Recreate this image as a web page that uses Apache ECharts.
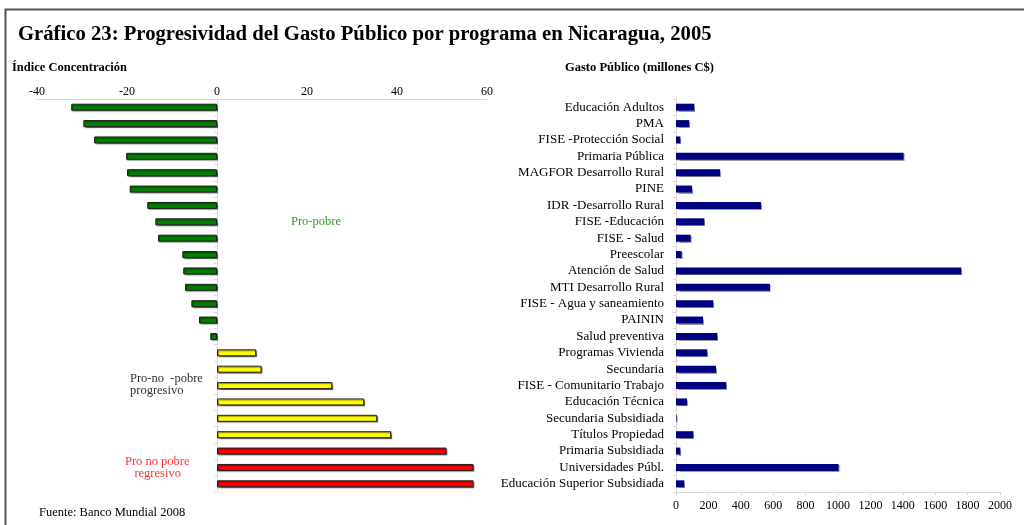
<!DOCTYPE html>
<html>
<head>
<meta charset="utf-8">
<script src="https://cdn.jsdelivr.net/npm/echarts@6/dist/echarts.min.js"></script>
<style>
html,body{margin:0;padding:0;background:#fff;}
#c{width:1024px;height:525px;}
</style>
</head>
<body>
<div id="c"></div>
<script>
const categories = [
  'Educación Adultos', 'PMA', 'FISE -Protección Social', 'Primaria Pública',
  'MAGFOR Desarrollo Rural', 'PINE', 'IDR -Desarrollo Rural', 'FISE -Educación',
  'FISE - Salud', 'Preescolar', 'Atención de Salud', 'MTI Desarrollo Rural',
  'FISE - Agua y saneamiento', 'PAININ', 'Salud preventiva', 'Programas Vivienda',
  'Secundaria', 'FISE - Comunitario Trabajo', 'Educación Técnica', 'Secundaria Subsidiada',
  'Títulos Propiedad', 'Primaria Subsidiada', 'Universidades Públ.', 'Educación Superior Subsidiada'
];
const indiceConcentracion = [
  -32.4, -29.7, -27.3, -20.2, -20.0, -19.4, -15.5, -13.7, -13.1, -7.7, -7.5, -7.1,
  -5.7, -4.0, -1.5, 8.7, 9.9, 25.6, 32.7, 35.6, 38.7, 51.0, 57.0, 57.0
];
const gastoPublico = [
  113, 82, 27, 1405, 272, 99, 525, 175, 91, 35, 1761, 580,
  230, 167, 255, 193, 247, 310, 68, 4, 107, 27, 1004, 51
];
const grupo = [
  'pro-pobre','pro-pobre','pro-pobre','pro-pobre','pro-pobre','pro-pobre','pro-pobre','pro-pobre',
  'pro-pobre','pro-pobre','pro-pobre','pro-pobre','pro-pobre','pro-pobre','pro-pobre',
  'progresivo','progresivo','progresivo','progresivo','progresivo','progresivo',
  'regresivo','regresivo','regresivo'
];
const indiceTicks = [-40, -20, 0, 20, 40, 60];
const gastoTicks = [0, 200, 400, 600, 800, 1000, 1200, 1400, 1600, 1800, 2000];

const groupColor = {'pro-pobre': '#008000', 'progresivo': '#FFFF00', 'regresivo': '#FF0000'};
const FONT = '"Liberation Serif", "DejaVu Serif", serif';

const chart = echarts.init(document.getElementById('c'), null, {renderer: 'canvas'});
const option = {
  backgroundColor: '#fff',
  animation: false,
  textStyle: {fontFamily: FONT},
  title: {
    text: 'Gráfico 23: Progresividad del Gasto Público por programa en Nicaragua, 2005',
    left: 13, top: 19, padding: [5, 5, 5, 5],
    textStyle: {fontFamily: FONT, fontSize: 20.7, fontWeight: 'bold', color: '#000'}
  },
  grid: [
    {left: 37, width: 450, top: 99, height: 393},
    {left: 676, width: 324, top: 99, height: 393}
  ],
  xAxis: [
    {
      gridIndex: 0, type: 'value', position: 'top',
      min: indiceTicks[0], max: indiceTicks[indiceTicks.length - 1], interval: 20,
      axisLine: {show: true, lineStyle: {color: '#d9d9d9'}},
      axisTick: {show: false},
      splitLine: {show: false},
      axisLabel: {color: '#000', fontSize: 12, fontFamily: FONT, margin: 1,
                  formatter: v => String(v)}
    },
    {
      gridIndex: 1, type: 'value', position: 'bottom',
      min: gastoTicks[0], max: gastoTicks[gastoTicks.length - 1], interval: 200,
      axisLine: {show: true, lineStyle: {color: '#d9d9d9'}},
      axisTick: {show: true, length: 3, lineStyle: {color: '#d9d9d9'}},
      splitLine: {show: false},
      axisLabel: {color: '#000', fontSize: 12, fontFamily: FONT, margin: 8,
                  formatter: v => String(v)}
    }
  ],
  yAxis: [
    {
      gridIndex: 0, type: 'category', data: categories, inverse: true,
      axisLine: {show: true, onZero: true, lineStyle: {color: '#d9d9d9'}},
      axisTick: {show: true, length: 3, lineStyle: {color: '#d9d9d9'}},
      axisLabel: {show: false}
    },
    {
      gridIndex: 1, type: 'category', data: categories, inverse: true,
      axisLine: {show: true, lineStyle: {color: '#d9d9d9'}},
      axisTick: {show: true, length: 3, lineStyle: {color: '#d9d9d9'}},
      axisLabel: {color: '#000', fontSize: 13, fontFamily: FONT, margin: 12, interval: 0}
    }
  ],
  series: [
    {
      type: 'bar', xAxisIndex: 0, yAxisIndex: 0, barWidth: 7,
      data: indiceConcentracion.map((v, i) => ({
        value: v,
        itemStyle: {
          color: groupColor[grupo[i]], borderColor: '#202020', borderWidth: 1,
          shadowColor: 'rgba(0,0,0,0.45)', shadowOffsetX: 1, shadowOffsetY: 1, shadowBlur: 1
        }
      }))
    },
    {
      type: 'bar', xAxisIndex: 1, yAxisIndex: 1, barWidth: 7,
      data: gastoPublico,
      itemStyle: {
        color: '#000080',
        shadowColor: 'rgba(0,0,0,0.4)', shadowOffsetX: 1, shadowOffsetY: 1, shadowBlur: 1
      }
    }
  ],
  graphic: [
    {type: 'rect', shape: {x: 5.5, y: 9.5, width: 1030, height: 540}, silent: true,
     style: {fill: 'none', stroke: '#555', lineWidth: 2}},
    {type: 'text', left: 12, top: 61,
     style: {text: 'Índice Concentración', font: 'bold 12.5px ' + FONT, fill: '#000'}},
    {type: 'text', left: 565, top: 61,
     style: {text: 'Gasto Público (millones C$)', font: 'bold 12.5px ' + FONT, fill: '#000'}},
    {type: 'text', left: 291, top: 215,
     style: {text: 'Pro-pobre', font: '12.5px ' + FONT, fill: '#339933'}},
    {type: 'text', left: 130, top: 372,
     style: {text: 'Pro-no  -pobre\nprogresivo', font: '12.5px ' + FONT, fill: '#333', lineHeight: 12}},
    {type: 'text', left: 125, top: 455,
     style: {text: 'Pro no pobre\n   regresivo', font: '12.5px ' + FONT, fill: '#FF3333', lineHeight: 12}},
    {type: 'text', left: 39, top: 506,
     style: {text: 'Fuente: Banco Mundial 2008', font: '12.5px ' + FONT, fill: '#000'}}
  ]
};
chart.setOption(option);
</script>
</body>
</html>
